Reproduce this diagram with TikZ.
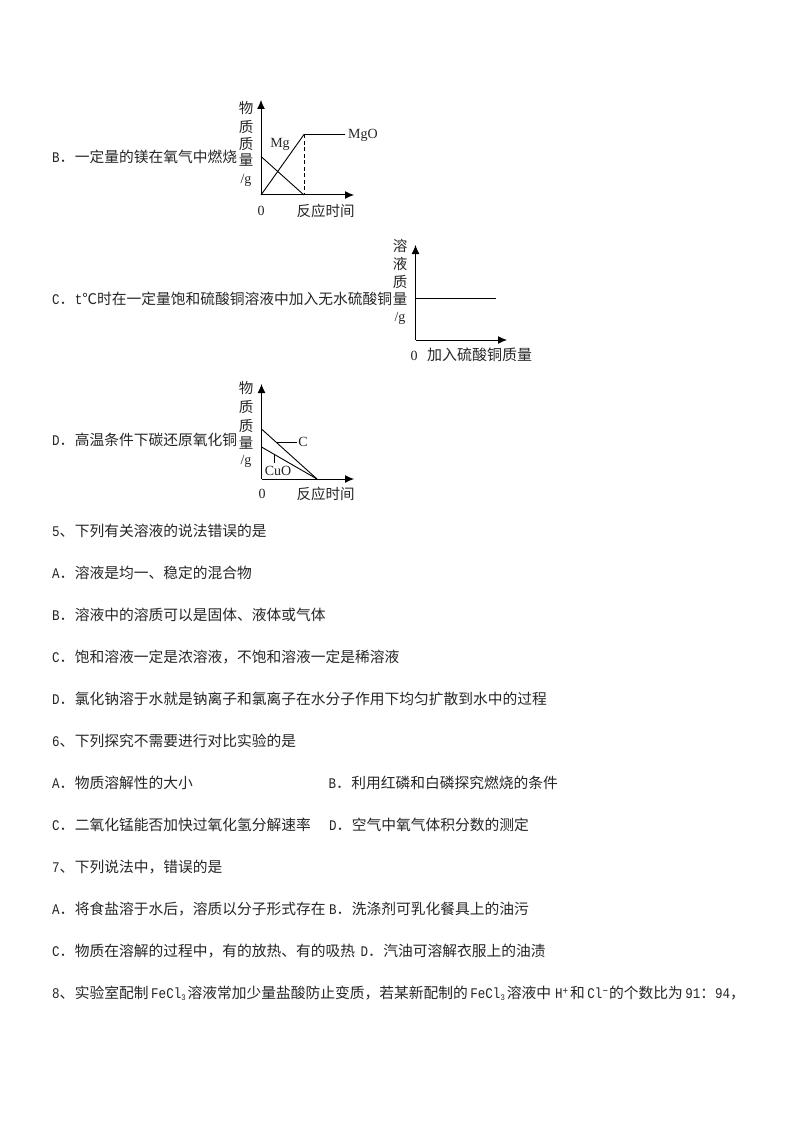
\documentclass[tikz,border=0pt]{standalone}
\usepackage{fontspec}
\setmainfont{Liberation Serif}
\newfontfamily\cjkf{Noto Sans CJK SC}
\newfontfamily\latf[FakeStretch=0.85]{Liberation Mono}
\newcommand\lt[1]{{\latf\fontsize{14.75}{16}\selectfont #1}}
\newcommand\opt[1]{\lt{#1}．\kern0.5pt}
\newcommand\subs[1]{\raisebox{-2.5pt}{\fontsize{8.5}{8}\selectfont\latf #1}}
\newcommand\sups[1]{\raisebox{4pt}{\fontsize{11}{10}\selectfont\latf #1}}
\usetikzlibrary{arrows.meta}
\tikzset{
  line text/.style={anchor=base west,inner sep=0,font=\cjkf\fontsize{14.75}{16}\selectfont,text=black!85},
  axis label/.style={inner sep=0,font=\cjkf\fontsize{14.5}{16}\selectfont,text=black!85},
  sym label/.style={inner sep=0,font=\rmfamily\fontsize{14}{16}\selectfont,text=black!85},
  axis line/.style={draw=black,line width=1pt,-{Latex[length=9pt,width=8pt]}},
  curve line/.style={draw=black,line width=0.9pt},
  drop line/.style={draw=black,line width=0.9pt,dash pattern=on 4pt off 2.5pt}
}
\begin{document}
\begin{tikzpicture}[x=1pt,y=-1pt]
\useasboundingbox[fill=white] (0,0) rectangle (794,1123);

% ---- B
\node[line text] (tB) at (52,163) {\opt{B}一定量的镁在氧气中燃烧};
\coordinate (bO) at (261,195);
\coordinate (bY) at (261,100);
\coordinate (bX) at (354,195);
\coordinate (bP) at (304,134.5);
\coordinate (bE) at (345,134.5);
\coordinate (bS) at (261,156.5);
\coordinate (bF) at (304,195);
\draw[axis line] (bO) -- (bY);
\draw[axis line] (bO) -- (bX);
\draw[curve line] (bO) -- (bP) -- (bE);
\draw[curve line] (bS) -- (bF);
\draw[drop line] (bP) -- (bF);
\node[axis label] (b1) at (246,108) {物};
\node[axis label] (b2) at (246,127) {质};
\node[axis label] (b3) at (246,144) {质};
\node[axis label] (b4) at (246,160) {量};
\node[sym label] (b5) at (246,180) {/g};
\node[sym label] (bMg) at (280,144) {Mg};
\node[sym label] (bMgO) at (363,135) {MgO};
\node[sym label] (b0) at (261,211) {0};
\node[axis label] (bT) at (325.5,211) {反应时间};

% ---- C
\node[line text] (tC) at (52,304) {\opt{C}\lt{t}℃时在一定量饱和硫酸铜溶液中加入无水硫酸铜};
\coordinate (cO) at (415.5,340);
\coordinate (cY) at (415.5,245);
\coordinate (cX) at (507,340);
\coordinate (cA) at (415.5,298);
\coordinate (cB) at (496,298);
\draw[axis line] (cO) -- (cY);
\draw[axis line] (cO) -- (cX);
\draw[curve line] (cA) -- (cB);
\node[axis label] (c1) at (400,246) {溶};
\node[axis label] (c2) at (400,264) {液};
\node[axis label] (c3) at (400,282) {质};
\node[axis label] (c4) at (400,299) {量};
\node[sym label] (c5) at (400,318) {/g};
\node[sym label] (c0) at (414,356) {0};
\node[axis label,font=\cjkf\fontsize{15}{16}\selectfont] (cT) at (479.5,355) {加入硫酸铜质量};

% ---- D
\node[line text] (tD) at (52,445) {\opt{D}高温条件下碳还原氧化铜};
\coordinate (dO) at (261.5,479);
\coordinate (dY) at (261.5,384);
\coordinate (dX) at (354,479);
\coordinate (dC) at (261.5,429);
\coordinate (dU) at (261.5,447);
\coordinate (dE) at (317,479);
\coordinate (dCa) at (277,442);
\coordinate (dCb) at (297,442);
\coordinate (dUa) at (274,455);
\coordinate (dUb) at (274,463);
\draw[axis line] (dO) -- (dY);
\draw[axis line] (dO) -- (dX);
\draw[curve line] (dC) -- (dE);
\draw[curve line] (dU) -- (dE);
\draw[curve line] (dCa) -- (dCb);
\draw[curve line] (dUa) -- (dUb);
\node[axis label] (d1) at (246,388) {物};
\node[axis label] (d2) at (246,407) {质};
\node[axis label] (d3) at (246,426) {质};
\node[axis label] (d4) at (246,443) {量};
\node[sym label] (d5) at (246,461) {/g};
\node[sym label] (dCl) at (303,442) {C};
\node[sym label] (dUl) at (278,471) {CuO};
\node[sym label] (d0) at (262,494) {0};
\node[axis label] (dT) at (325.5,494) {反应时间};

% ---- questions
\node[line text] (q5) at (52,536) {\lt{5}、\kern0.5pt 下列有关溶液的说法错误的是};
\node[line text] (q5a) at (52,578) {\opt{A}溶液是均一、稳定的混合物};
\node[line text] (q5b) at (52,620) {\opt{B}溶液中的溶质可以是固体、液体或气体};
\node[line text] (q5c) at (52,662) {\opt{C}饱和溶液一定是浓溶液，不饱和溶液一定是稀溶液};
\node[line text] (q5d) at (52,704) {\opt{D}氯化钠溶于水就是钠离子和氯离子在水分子作用下均匀扩散到水中的过程};
\node[line text] (q6) at (52,746) {\lt{6}、\kern0.5pt 下列探究不需要进行对比实验的是};
\node[line text] (q6a) at (52,788) {\opt{A}物质溶解性的大小};
\node[line text] (q6b) at (328.5,788) {\opt{B}利用红磷和白磷探究燃烧的条件};
\node[line text] (q6c) at (52,830) {\opt{C}二氧化锰能否加快过氧化氢分解速率};
\node[line text] (q6d) at (329,830) {\opt{D}空气中氧气体积分数的测定};
\node[line text] (q7) at (52,872) {\lt{7}、\kern0.5pt 下列说法中，错误的是};
\node[line text] (q7a) at (52,914) {\opt{A}将食盐溶于水后，溶质以分子形式存在};
\node[line text] (q7b) at (329,914) {\opt{B}洗涤剂可乳化餐具上的油污};
\node[line text] (q7c) at (52,956) {\opt{C}物质在溶解的过程中，有的放热、有的吸热};
\node[line text] (q7d) at (360.5,956) {\opt{D}汽油可溶解衣服上的油渍};
\node[line text] (q8) at (52,998) {\lt{8}、\kern0.5pt 实验室配制\kern2.5pt\lt{FeCl}\subs{3}\kern2pt 溶液常加少量盐酸防止变质，若某新配制的\kern2.5pt\lt{FeCl}\subs{3}\kern2pt 溶液中\kern4pt\lt{H}\sups{+}\kern2pt 和\kern2.5pt\lt{Cl}\sups{−}\kern1pt 的个数比为\kern2.5pt\lt{91}：\lt{94}，};
\end{tikzpicture}
\end{document}
